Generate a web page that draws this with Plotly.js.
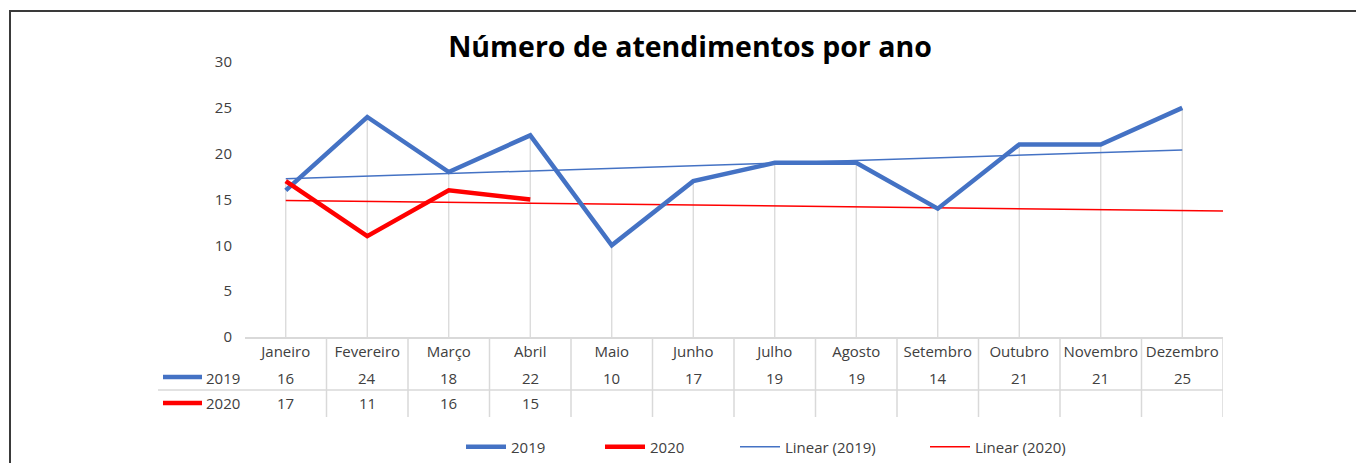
<!DOCTYPE html>
<html>
<head>
<meta charset="utf-8">
<script src="https://cdn.plot.ly/plotly-3.0.1.min.js"></script>
<style>
  html, body { margin: 0; padding: 0; background: #fff; overflow: hidden; }
  #chart { width: 1356px; height: 463px; }
</style>
</head>
<body>
<div id="chart"></div>
<script>
// ---- data ----
const months = ["Janeiro","Fevereiro","Março","Abril","Maio","Junho","Julho","Agosto","Setembro","Outubro","Novembro","Dezembro"];
const values2019 = [16, 24, 18, 22, 10, 17, 19, 19, 14, 21, 21, 25];
const values2020 = [17, 11, 16, 15];
const seriesNames = ["2019", "2020"];
const trendNames = ["Linear (2019)", "Linear (2020)"];
const chartTitle = "Número de atendimentos por ano";
const yTicks = [0, 5, 10, 15, 20, 25, 30];
const forecastForward2020 = 8.5;   // trendline option (periods forward)

// ---- helpers ----
const BLUE = "#4472C4", RED = "#FF0000", GRID = "#D9D9D9", TXT = "#404040";
const FONT = "'Open Sans', sans-serif";
const FS = 15;
const xs = arr => arr.map((_, i) => i + 1);
function linfit(y) {
  const n = y.length, x = xs(y);
  const mx = x.reduce((a, b) => a + b, 0) / n, my = y.reduce((a, b) => a + b, 0) / n;
  let sxy = 0, sxx = 0;
  for (let i = 0; i < n; i++) { sxy += (x[i] - mx) * (y[i] - my); sxx += (x[i] - mx) ** 2; }
  const m = sxy / sxx; return { m, b: my - m * mx };
}
const f19 = linfit(values2019), f20 = linfit(values2020);
const t19x = [1, values2019.length];
const t20x = [1, values2020.length + forecastForward2020];

// drop lines (to the highest series value in each category)
const dropX = [], dropY = [];
months.forEach((m, i) => {
  const vals = [values2019[i], values2020[i]].filter(v => v !== undefined);
  dropX.push(i + 1, i + 1, null);
  dropY.push(0, Math.max(...vals), null);
});

// pixel-to-paper helpers for layout placement
const L = 245, R = 133, T = 62, B = 126, W = 1356, H = 463;
const PW = W - L - R, PH = H - T - B;
const px = p => (p - L) / PW;
const py = p => (H - B - p) / PH;

const traces = [
  { x: dropX, y: dropY, mode: "lines", line: { color: GRID, width: 1.3 }, hoverinfo: "skip", showlegend: false },
  { x: t19x, y: t19x.map(x => f19.m * x + f19.b), mode: "lines", name: trendNames[0],
    line: { color: BLUE, width: 1.5 }, legend: "legend3" },
  { x: t20x, y: t20x.map(x => f20.m * x + f20.b), mode: "lines", name: trendNames[1],
    line: { color: RED, width: 1.5 }, legend: "legend4" },
  { x: xs(values2019), y: values2019, mode: "lines", name: seriesNames[0],
    line: { color: BLUE, width: 4.5 }, legend: "legend" },
  { x: xs(values2020), y: values2020, mode: "lines", name: seriesNames[1],
    line: { color: RED, width: 4.5 }, legend: "legend2" },
];

// data table annotations
const annotations = [];
const rowY = [py(378), py(403)];
[values2019, values2020].forEach((arr, r) => {
  arr.forEach((v, i) => annotations.push({
    x: i + 1, xref: "x", y: rowY[r], yref: "paper", text: String(v), showarrow: false,
    font: { size: FS, color: TXT, family: FONT }, xanchor: "center", yanchor: "middle"
  }));
  annotations.push({
    x: px(204), xref: "paper", y: rowY[r], yref: "paper", text: seriesNames[r], showarrow: false,
    font: { size: FS, color: TXT, family: FONT }, xanchor: "left", yanchor: "middle"
  });
});

// table lines + keys + border
const shapes = [];
shapes.push({ type: "line", xref: "paper", yref: "paper", x0: px(158), x1: 1, y0: py(390), y1: py(390),
  line: { color: GRID, width: 1.5 } });
for (let k = 1; k <= months.length; k++) {
  shapes.push({ type: "line", xref: "x", yref: "paper", x0: k + 0.5, x1: k + 0.5, y0: 0, y1: py(417),
    line: { color: GRID, width: 1.5 } });
}
[[BLUE, 377], [RED, 403]].forEach(([c, y]) => shapes.push({
  type: "line", xref: "paper", yref: "paper", x0: px(163), x1: px(202), y0: py(y), y1: py(y),
  line: { color: c, width: 4.5 }
}));
shapes.push({ type: "rect", xref: "paper", yref: "paper", x0: px(10), x1: px(1400), y0: py(11), y1: py(520),
  line: { color: "#3a3a3a", width: 2 }, fillcolor: "rgba(0,0,0,0)", layer: "below" });

const legBase = { orientation: "h", xanchor: "left", yanchor: "middle", y: py(447), itemwidth: 40,
  font: { size: FS, color: TXT, family: FONT }, bgcolor: "rgba(0,0,0,0)", borderwidth: 0 };

const layout = {
  width: W, height: H,
  margin: { l: L, r: R, t: T, b: B, autoexpand: false },
  paper_bgcolor: "#fff", plot_bgcolor: "#fff",
  font: { family: FONT, color: TXT },
  title: { text: "<b>" + chartTitle + "</b>", x: 690 / W, xref: "container", xanchor: "center",
    y: 1 - 47 / H, yanchor: "middle",
    font: { size: 28.5, color: "#000", family: FONT } },
  xaxis: { range: [0.5, months.length + 0.5], tickvals: xs(months), ticktext: months,
    showgrid: false, zeroline: false, showline: true, linecolor: GRID, linewidth: 1.5,
    ticks: "", tickfont: { size: FS, color: TXT, family: FONT }, fixedrange: true },
  yaxis: { range: [0, 30], tickvals: yTicks, showgrid: false, zeroline: false, showline: false,
    ticks: "", ticklabelstandoff: 12, tickfont: { size: 15, color: TXT, family: FONT }, fixedrange: true },
  showlegend: true,
  legend: Object.assign({}, legBase, { x: px(461) }),
  legend2: Object.assign({}, legBase, { x: px(600) }),
  legend3: Object.assign({}, legBase, { x: px(735) }),
  legend4: Object.assign({}, legBase, { x: px(925) }),
  annotations, shapes
};

Plotly.newPlot("chart", traces, layout, { displayModeBar: false, staticPlot: true });
</script>
</body>
</html>
